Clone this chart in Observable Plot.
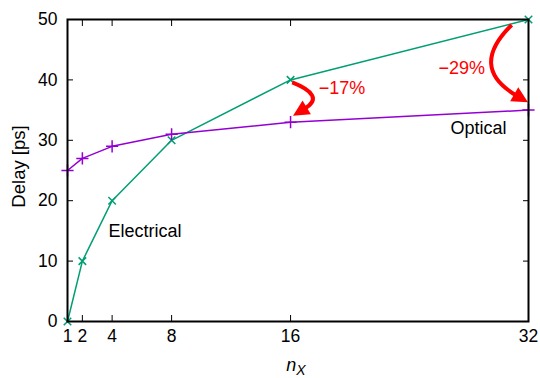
<!DOCTYPE html>
<html><head><meta charset="utf-8">
<script src="https://cdn.jsdelivr.net/npm/d3@7"></script>
<script src="https://cdn.jsdelivr.net/npm/@observablehq/plot@0.6"></script>
<style>body{margin:0;background:#fff;font-family:"Liberation Sans",Arial,sans-serif}</style>
</head><body><div id="chart"></div>
<script>
const nX = [1, 2, 4, 8, 16, 32];
const electrical = [0, 10, 20, 30, 40, 50];
const optical = [25, 27, 29, 31, 33, 35];
const yTicks = [0, 10, 20, 30, 40, 50];
const labels = [
  {x: 3.75, y: 14.9, text: "Electrical", color: "#000"},
  {x: 26.76, y: 32, text: "Optical", color: "#000"},
  {x: 17.9, y: 38.6, text: "\u221217%", color: "#ff0000"},
  {x: 25.95, y: 41.9, text: "\u221229%", color: "#ff0000"}
];
// arrows: start, control (bulge), end in data units
const arrows = [
  {x1: 16.15, y1: 39.5, cx: 18.4, cy: 37.3, x2: 16.2, y2: 34.0},
  {x1: 30.9, y1: 49.0, cx: 28.0, cy: 42.0, x2: 32.0, y2: 36.2}
];

const elec = nX.map((x, i) => ({x, y: electrical[i]}));
const opt = nX.map((x, i) => ({x, y: optical[i]}));
const green = "#009e73", purple = "#9400d3";

function arrowMark(data) {
  return (index, scales) => {
    const g = d3.create("svg:g");
    for (const a of data) {
      const x1 = scales.x(a.x1), y1 = scales.y(a.y1);
      const cx = scales.x(a.cx), cy = scales.y(a.cy);
      const x2 = scales.x(a.x2), y2 = scales.y(a.y2);
      const ang = Math.atan2(y2 - cy, x2 - cx);
      const L = 16, W = 8;
      const bx = x2 - L * Math.cos(ang), by = y2 - L * Math.sin(ang);
      const px = -Math.sin(ang), py = Math.cos(ang);
      g.append("path")
        .attr("d", `M${x1},${y1}Q${cx},${cy},${bx + 2*Math.cos(ang)},${by + 2*Math.sin(ang)}`)
        .attr("fill", "none").attr("stroke", "#ff0000").attr("stroke-width", 4);
      g.append("path")
        .attr("d", `M${x2},${y2}L${bx + W*px},${by + W*py}L${bx - W*px},${by - W*py}Z`)
        .attr("fill", "#ff0000");
    }
    return g.node();
  };
}

const plot = Plot.plot({
  width: 540, height: 378,
  marginLeft: 67, marginRight: 12, marginTop: 19, marginBottom: 57,
  style: {fontFamily: "Liberation Sans, Arial, sans-serif", fontSize: "17.5px", color: "#000", background: "#fff"},
  x: {type: "linear", domain: [1, 32]},
  y: {domain: [0, 50]},
  marks: [
    Plot.axisX({ticks: nX, tickSize: 0, tickPadding: 8, tickFormat: d => d, label: null, fontSize: 17.5}),
    Plot.axisX({ticks: nX, tickSize: -6, tickFormat: null, text: null, label: null}),
    Plot.axisX({anchor: "top", ticks: nX, tickSize: -6, text: null, label: null}),
    Plot.axisY({ticks: yTicks, tickSize: 0, tickPadding: 10, label: null, fontSize: 17.5}),
    Plot.axisY({ticks: yTicks, tickSize: -6, text: null, label: null}),
    Plot.axisY({anchor: "right", ticks: yTicks, tickSize: -6, text: null, label: null}),
    Plot.line(elec, {x: "x", y: "y", stroke: green, strokeWidth: 1.5}),
    Plot.dot(elec, {x: "x", y: "y", symbol: "times", stroke: green, r: 3.5, strokeWidth: 1.5}),
    Plot.line(opt, {x: "x", y: "y", stroke: purple, strokeWidth: 1.5}),
    Plot.dot(opt, {x: "x", y: "y", symbol: "plus", stroke: purple, r: 4, strokeWidth: 1.5}),
    Plot.text(labels, {x: "x", y: "y", text: "text", fill: "color", textAnchor: "start", fontSize: 18}),
    arrowMark(arrows),
    Plot.frame({stroke: "#000", strokeWidth: 2})
  ]
});
const svg = d3.select(plot);
svg.append("text").attr("transform", "translate(19,166.5) rotate(-90)")
  .attr("text-anchor", "middle").attr("dy", "0.35em").attr("font-size", 18.5).text("Delay [ps]");
const xl = svg.append("text").attr("x", 296).attr("y", 371).attr("text-anchor", "middle")
  .attr("font-size", 18).attr("font-style", "italic");
xl.append("tspan").text("n");
xl.append("tspan").attr("dy", 4).attr("font-size", 14).text("X");
document.getElementById("chart").appendChild(plot);
</script></body></html>
